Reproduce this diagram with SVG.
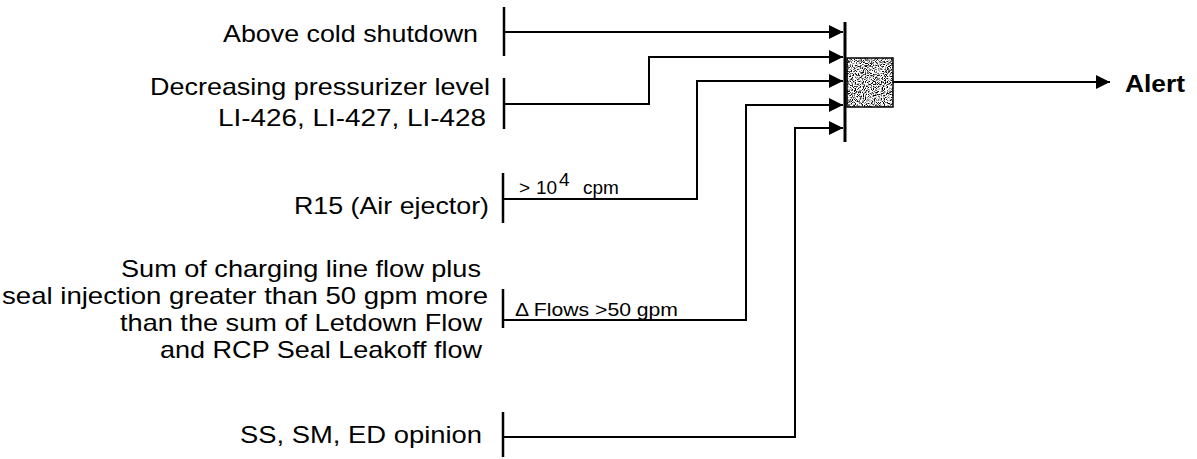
<svg xmlns="http://www.w3.org/2000/svg" width="1197" height="459" viewBox="0 0 1197 459">
<style>
.lbl{font-family:"Liberation Sans",Arial,sans-serif;font-size:24px;fill:#000;text-anchor:end}
.sm{font-family:"Liberation Sans",Arial,sans-serif;font-size:19px;fill:#000}
.tick{stroke:#000;stroke-width:2.5;fill:none}
.wire{stroke:#000;stroke-width:2;fill:none}
</style>
<defs>
<marker id="ah" markerUnits="userSpaceOnUse" markerWidth="15" markerHeight="15" refX="14" refY="7" orient="auto">
<path d="M0,0 L14,7 L0,14 z" fill="#000"/>
</marker>
<filter id="noise" x="0" y="0" width="100%" height="100%">
<feTurbulence type="fractalNoise" baseFrequency="0.9" numOctaves="2" seed="4" result="t"/>
<feColorMatrix in="t" type="matrix" values="0 0 0 0 0  0 0 0 0 0  0 0 0 0 0  5 0 0 0 -2.3" result="a"/>
<feComposite in="a" in2="SourceGraphic" operator="in"/>
</filter>
</defs>

<g id="in1">
<text class="lbl" x="478" y="42" textLength="255" lengthAdjust="spacingAndGlyphs">Above cold shutdown</text>
<line class="tick" x1="504" y1="7" x2="504" y2="56"/>
</g>
<g id="in2">
<text class="lbl" x="490" y="95" textLength="340" lengthAdjust="spacingAndGlyphs">Decreasing pressurizer level</text>
<text class="lbl" x="486" y="126" textLength="268" lengthAdjust="spacingAndGlyphs">LI-426, LI-427, LI-428</text>
<line class="tick" x1="504" y1="78" x2="504" y2="129"/>
</g>
<g id="in3">
<text class="lbl" x="489" y="214" textLength="195" lengthAdjust="spacingAndGlyphs">R15 (Air ejector)</text>
<line class="tick" x1="503" y1="173" x2="503" y2="223"/>
<text class="sm" x="519" y="194" font-size="17">&gt;</text>
<text class="sm" x="536" y="194" font-size="20">10</text>
<text class="sm" x="559" y="186" font-size="14">4</text>
<text class="sm" x="583" y="194">cpm</text>
</g>
<g id="in4">
<text class="lbl" x="481" y="277" textLength="360" lengthAdjust="spacingAndGlyphs">Sum of charging line flow plus</text>
<text class="lbl" x="488" y="304" textLength="486" lengthAdjust="spacingAndGlyphs">seal injection greater than 50 gpm more</text>
<text class="lbl" x="482" y="331" textLength="362" lengthAdjust="spacingAndGlyphs">than the sum of Letdown Flow</text>
<text class="lbl" x="482" y="358" textLength="322" lengthAdjust="spacingAndGlyphs">and RCP Seal Leakoff flow</text>
<line class="tick" x1="503" y1="289" x2="503" y2="328"/>
<text class="sm" x="515" y="316" textLength="163" lengthAdjust="spacingAndGlyphs">Δ Flows &gt;50 gpm</text>
</g>
<g id="in5">
<text class="lbl" x="482" y="443" textLength="242" lengthAdjust="spacingAndGlyphs">SS, SM, ED opinion</text>
<line class="tick" x1="503" y1="412" x2="503" y2="457"/>
</g>

<g id="gate">
<line x1="845" y1="22" x2="845" y2="142" stroke="#000" stroke-width="3"/>
<rect x="847" y="58" width="46" height="49" fill="#fff"/>
<rect x="847" y="58" width="46" height="49" fill="#000" filter="url(#noise)"/>
<rect x="847" y="58" width="46" height="49" fill="none" stroke="#000" stroke-width="1.5"/>
</g>

<g id="output">
<text x="1125" y="92" font-family="Liberation Sans,Arial,sans-serif" font-size="23" font-weight="bold" textLength="60" lengthAdjust="spacingAndGlyphs">Alert</text>
</g>

<g id="connectors">
<path class="wire" d="M504,32 H843" marker-end="url(#ah)"/>
<path class="wire" d="M504,104 H649 V57 H843" marker-end="url(#ah)"/>
<path class="wire" d="M503,199 H697 V81 H843" marker-end="url(#ah)"/>
<path class="wire" d="M503,320 H746 V105 H843" marker-end="url(#ah)"/>
<path class="wire" d="M503,437 H795 V128 H843" marker-end="url(#ah)"/>
<path class="wire" d="M893,82 H1110" marker-end="url(#ah)"/>
</g>
</svg>
